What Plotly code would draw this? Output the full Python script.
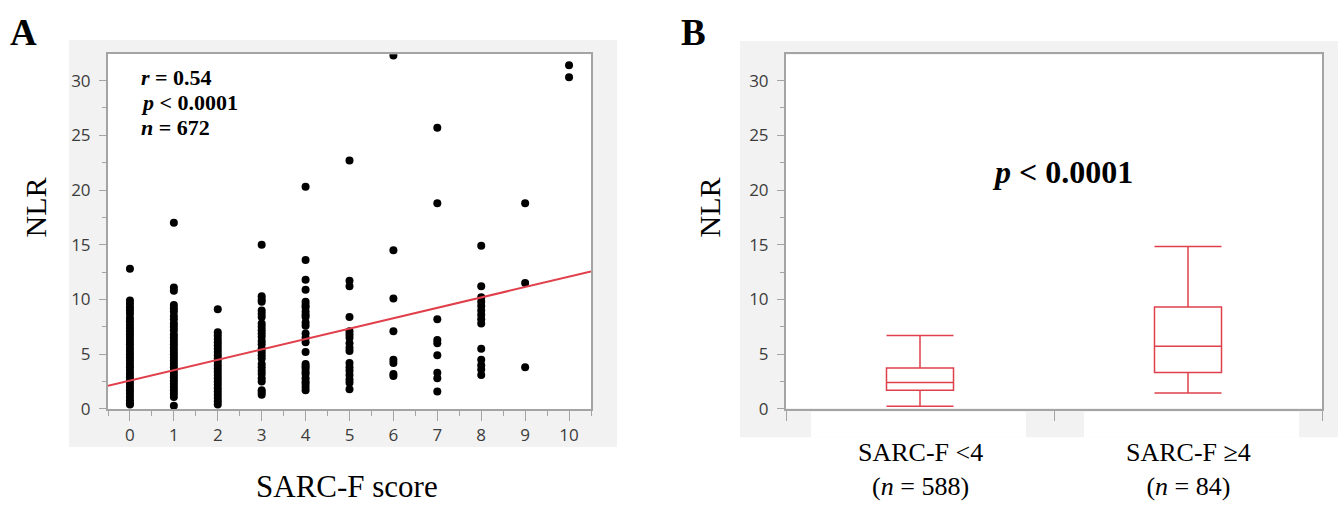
import plotly.graph_objects as go

W, H = 1338, 507

# ---------------- Panel A data: NLR by SARC-F score ----------------
sarcf_scores = [0, 1, 2, 3, 4, 5, 6, 7, 8, 9, 10]
nlr_score0 = [12.8, 9.9, 9.6, 9.3, 9.0, 8.7, 8.3, 8.0, 7.7, 7.4, 7.1, 6.8, 6.5, 6.2, 5.9,
              5.6, 5.3, 5.0, 4.7, 4.4, 4.1, 3.8, 3.5, 3.2, 2.9, 2.6, 2.3, 2.0, 1.7, 1.4,
              1.1, 0.8, 0.5, 0.4]
nlr_score1 = [17.0, 11.1, 10.8, 9.5, 9.2, 8.9, 8.5, 8.2, 7.8, 7.5, 7.2, 6.8, 6.5, 6.2,
              5.9, 5.6, 5.3, 5.0, 4.7, 4.4, 4.1, 3.8, 3.5, 3.2, 2.9, 2.6, 2.3, 2.0, 1.7,
              1.4, 1.1, 0.3]
nlr_score2 = [9.1, 7.0, 6.7, 6.4, 6.1, 5.8, 5.5, 5.2, 4.9, 4.6, 4.3, 4.0, 3.7, 3.4, 3.1,
              2.8, 2.5, 2.2, 1.9, 1.6, 1.3, 1.0, 0.7, 0.4]
nlr_score3 = [15.0, 10.3, 10.0, 9.8, 9.0, 8.7, 8.4, 7.8, 7.5, 7.2, 6.9, 6.6, 6.2, 5.9,
              5.5, 5.2, 4.9, 4.6, 4.1, 3.8, 3.5, 3.2, 2.8, 2.5, 1.7, 1.5, 1.3]
nlr_score4 = [20.3, 13.6, 11.8, 10.9, 9.8, 9.5, 9.3, 8.9, 8.6, 8.4, 7.9, 7.6, 6.9, 6.5,
              6.1, 5.2, 4.1, 3.9, 3.7, 3.4, 3.2, 2.8, 2.5, 2.3, 2.0, 1.7]
nlr_score5 = [22.7, 11.7, 11.2, 8.4, 7.1, 6.8, 6.5, 6.0, 5.6, 5.3, 4.2, 3.8, 3.5, 3.1,
              2.7, 2.4, 1.8]
nlr_score6 = [32.3, 14.5, 10.1, 7.1, 4.5, 4.2, 3.2, 3.0]
nlr_score7 = [25.7, 18.8, 8.2, 6.3, 6.0, 4.9, 3.3, 2.8, 1.6]
nlr_score8 = [14.9, 11.2, 10.2, 9.8, 9.4, 9.0, 8.6, 8.2, 7.8, 5.5, 4.5, 4.0, 3.6, 3.1]
nlr_score9 = [18.8, 11.5, 3.8]
nlr_score10 = [31.4, 30.3]
nlr_by_score = [nlr_score0, nlr_score1, nlr_score2, nlr_score3, nlr_score4, nlr_score5,
                nlr_score6, nlr_score7, nlr_score8, nlr_score9, nlr_score10]

fit_intercept = 2.58
fit_slope = 0.951
fit_x_ends = [-0.5, 10.5]

stats_lines = ["<b><i>r</i> = 0.54</b>", "<b><i>p</i> &lt; 0.0001</b>", "<b><i>n</i> = 672</b>"]

# ---------------- Panel B data: box summaries ----------------
group_pos = [0, 1]
group_labels = ["SARC-F &lt;4<br>(<i>n</i> = 588)", "SARC-F ≥4<br>(<i>n</i> = 84)"]
box_lower = [0.24, 1.46]
box_q1 = [1.70, 3.34]
box_median = [2.42, 5.73]
box_q3 = [3.73, 9.31]
box_upper = [6.72, 14.84]
p_text_b = "<b><i>p</i> &lt; 0.0001</b>"

y_ticks = [0, 5, 10, 15, 20, 25, 30]

# ---------------- helpers ----------------
def px(x):
    return x / W

def py(y):
    return 1 - y / H

RED = "#e0404c"
AXIS = "#a4a4a4"
GRAYBG = "#f2f2f2"
SERIF = "Liberation Serif, Times New Roman, serif"
SANS = "Open Sans, Noto Sans, sans-serif"
TICKFONT = dict(family=SANS, size=17, color="#3c3c3c")

fig = go.Figure()

xs, ys = [], []
for s, vals in zip(sarcf_scores, nlr_by_score):
    for v in vals:
        xs.append(s)
        ys.append(v)

fig.add_trace(go.Scatter(x=xs, y=ys, mode="markers",
                         marker=dict(color="black", size=8),
                         xaxis="x", yaxis="y", showlegend=False))

fig.add_trace(go.Scatter(x=fit_x_ends,
                         y=[fit_intercept + fit_slope * x for x in fit_x_ends],
                         mode="lines", line=dict(color=RED, width=2),
                         xaxis="x", yaxis="y", showlegend=False))

fig.add_trace(go.Box(x=group_pos, q1=box_q1, median=box_median, q3=box_q3,
                     lowerfence=box_lower, upperfence=box_upper,
                     width=0.25, whiskerwidth=1, boxpoints=False,
                     line=dict(color=RED, width=1.5),
                     fillcolor="rgba(0,0,0,0)",
                     xaxis="x2", yaxis="y2", showlegend=False))

ydom = [py(418), py(55.5)]
yaxis_common = dict(range=[0, 32.4], tickvals=y_ticks, ticks="outside", ticklen=7,
                    tickcolor=AXIS, tickwidth=1,
                    minor=dict(dtick=2.5, ticklen=4, ticks="outside", tickcolor=AXIS),
                    showline=True, linecolor=AXIS, linewidth=2, mirror=True,
                    showgrid=False, zeroline=False, ticklabelstandoff=5,
                    tickfont=TICKFONT,
                    domain=ydom, fixedrange=True)

fig.update_layout(
    width=W, height=H, margin=dict(l=0, r=0, t=0, b=0),
    paper_bgcolor="white", plot_bgcolor="rgba(0,0,0,0)",
    showlegend=False,
    xaxis=dict(domain=[px(108), px(591)], range=[-0.5, 10.5], dtick=1, tick0=0,
               ticks="outside", ticklen=10, tickcolor=AXIS, tickwidth=1,
               minor=dict(dtick=0.5, ticklen=5, ticks="outside", tickcolor=AXIS),
               showline=True, linecolor=AXIS, linewidth=2, mirror=True,
               showgrid=False, zeroline=False,
               tickfont=TICKFONT,
               anchor="y", fixedrange=True),
    yaxis=dict(anchor="x", **yaxis_common),
    xaxis2=dict(domain=[px(786), px(1322)], range=[-0.5, 1.5],
                tickvals=[-0.5, 0.5, 1.5], showticklabels=False,
                ticks="outside", ticklen=10, tickcolor=AXIS, tickwidth=1,
                showline=True, linecolor=AXIS, linewidth=2, mirror=True,
                showgrid=False, zeroline=False, anchor="y2", fixedrange=True),
    yaxis2=dict(anchor="x2", **yaxis_common),
)

shapes = []
def rect(x0, y0, x1, y1, color):
    shapes.append(dict(type="rect", xref="paper", yref="paper",
                       x0=px(x0), x1=px(x1), y0=py(y1), y1=py(y0),
                       fillcolor=color, line=dict(width=0), layer="below"))

rect(69, 41, 617, 457, GRAYBG)
rect(108, 55, 591, 418, "white")
rect(740, 42, 1338, 447, GRAYBG)
rect(786, 56, 1322, 417, "white")
rect(811, 421, 1026, 447, "white")
rect(1084, 421, 1299, 447, "white")
fig.update_layout(shapes=shapes)

ann = []
def label(text, x, y, size, xanchor="center", yanchor="middle", angle=0, xref="paper"):
    ann.append(dict(text=text, x=x, y=y, xref=xref, yref="paper",
                    xanchor=xanchor, yanchor=yanchor, textangle=angle,
                    showarrow=False, font=dict(family=SERIF, size=size, color="black")))

# panel letters
label("<b>A</b>", px(23), py(33), 37)
label("<b>B</b>", px(693), py(33), 37)
# axis titles
for xc in (35, 709):
    label("NLR", px(xc), py(212), 30, angle=-90)
label("SARC-F score", px(347), py(497), 31)
# stats panel A
for i, t in enumerate(stats_lines):
    label(t, px(139), py(79 + 25.5 * i), 22, xanchor="left")
# p value panel B
label(p_text_b, px(1062), py(176), 32)
# group labels
for g, lab in zip(group_pos, group_labels):
    label(lab, g, py(446), 26, yanchor="top", xref="x2")
fig.update_layout(annotations=ann)

fig.write_html("out.html")
